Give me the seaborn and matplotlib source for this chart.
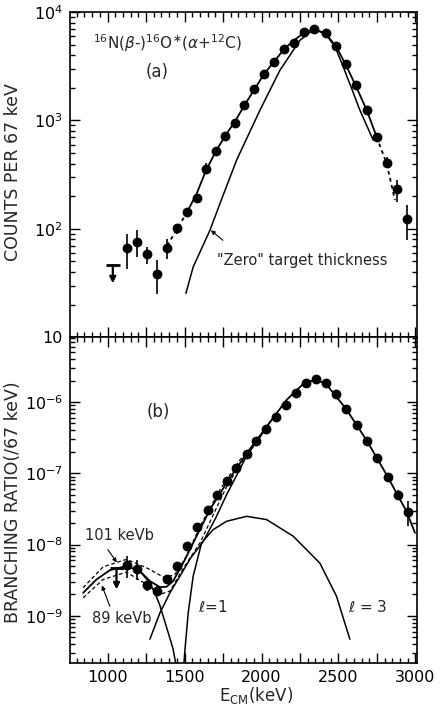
import math
import matplotlib
matplotlib.use('Agg')
import matplotlib.pyplot as plt
import seaborn as sns
from matplotlib.ticker import MultipleLocator, LogLocator, FuncFormatter, NullFormatter

# ------------------------------------------------------------
# panel (a): counts per 67 keV
# ------------------------------------------------------------
e_a = [1123, 1188, 1257, 1322, 1387, 1452, 1513, 1578, 1639, 1702, 1762, 1827, 1888,
       1953, 2017, 2082, 2147, 2212, 2277, 2342, 2416, 2483, 2546, 2611, 2683, 2748,
       2813, 2878, 2943]
counts_a = [66, 75, 59, 38.6, 67, 101, 143, 192, 360, 523, 716, 950, 1375,
            1932, 2679, 3453, 4530, 5210, 6580, 6970, 6360, 4850, 3290, 2104, 1245, 706,
            409, 231, 122]

err_e_a = [1123, 1188, 1257, 1322, 1387, 1452, 1639, 2813, 2878, 2943]
err_lo_a = [43, 55, 47.9, 25.3, 53, 90.6, 324, 361, 177, 78.5]
err_hi_a = [90.6, 97, 68, 51.3, 81, 112, 401, 461, 281, 165]

ul_e_a = [1034]
ul_top_a = [46]
ul_tip_a = [31.5]

# fit curve: dashed start, solid body, dashed tail
fit_dash1_e = [1387, 1452, 1513]
fit_dash1 = [70, 100, 140]
fit_e_a = [1513, 1578, 1639, 1702, 1762, 1827, 1888, 1953, 2017, 2082, 2147, 2212,
           2277, 2342, 2416, 2483, 2546, 2611, 2683, 2748]
fit_a = [140, 210, 345, 515, 715, 975, 1370, 1930, 2680, 3500, 4550, 5500,
         6450, 6950, 6350, 4850, 3300, 2110, 1250, 706]
fit_dash2_e = [2748, 2813, 2867]
fit_dash2 = [706, 400, 184]

# "zero" target thickness curve
zero_e = [1509, 1556, 1665, 1730, 1838, 1990, 2120, 2250, 2342, 2420, 2480, 2531,
          2590, 2639, 2726]
zero_a = [25.4, 44.5, 97, 171, 430, 1245, 2910, 5500, 6970, 6200, 4700, 3125,
          1900, 1245, 658]

# ------------------------------------------------------------
# panel (b): branching ratio per 67 keV
# ------------------------------------------------------------
e_b = [1127, 1192, 1257, 1322, 1387, 1452, 1517, 1582, 1650, 1712, 1773, 1834, 1903,
       1964, 2029, 2093, 2158, 2223, 2288, 2353, 2418, 2483, 2548, 2618, 2687, 2752,
       2819, 2884, 2953]
br_b = [5.1e-9, 4.47e-9, 2.67e-9, 2.22e-9, 3.3e-9, 4.97e-9, 9.5e-9, 1.77e-8, 3.1e-8,
        5.0e-8, 7.9e-8, 1.18e-7, 1.87e-7, 2.8e-7, 4.2e-7, 6.2e-7, 9.1e-7, 1.35e-6,
        1.82e-6, 2.08e-6, 1.82e-6, 1.28e-6, 7.98e-7, 4.77e-7, 2.85e-7, 1.66e-7,
        9.0e-8, 5.0e-8, 2.86e-8]

err_e_b = [1127, 1192, 1257, 1322, 1387, 2884, 2953]
err_lo_b = [3.42e-9, 3.17e-9, 2.22e-9, 1.89e-9, 2.9e-9, 4.3e-8, 1.8e-8]
err_hi_b = [6.86e-9, 6.17e-9, 3.07e-9, 2.61e-9, 3.8e-9, 5.9e-8, 4.04e-8]

ul_e_b = [1058]
ul_top_b = [4.7e-9]
ul_tip_b = [2.35e-9]

total_e = [841, 928, 1015, 1123, 1210, 1275, 1340, 1383, 1426, 1491, 1578, 1665, 1773,
           1903, 2033, 2163, 2277, 2353, 2418, 2548, 2683, 2813, 2943, 2997]
total_b = [2.1e-9, 3.24e-9, 4.37e-9, 5.0e-9, 4.24e-9, 3.07e-9, 2.53e-9, 2.56e-9,
           3.07e-9, 5.5e-9, 1.31e-8, 3.1e-8, 7.3e-8, 1.9e-7, 4.5e-7, 1.07e-6, 1.85e-6,
           2.05e-6, 1.8e-6, 8.1e-7, 2.9e-7, 9.5e-8, 2.9e-8, 1.46e-8]

kevb101_e = [841, 971, 1123, 1253, 1372, 1437, 1513, 1601, 1731, 1861, 1903]
kevb101 = [2.48e-9, 4.87e-9, 6.2e-9, 4.72e-9, 3.42e-9, 3.8e-9, 6.9e-9, 1.8e-8, 5.9e-8,
           1.55e-7, 1.95e-7]
kevb89_e = [841, 971, 1123, 1253, 1340, 1405, 1491, 1601, 1773, 1903]
kevb89 = [1.79e-9, 3.24e-9, 4.1e-9, 2.76e-9, 2.0e-9, 2.22e-9, 4.6e-9, 1.06e-8, 6.5e-8,
          1.85e-7]

l1_e = [1275, 1340, 1405, 1470, 1540, 1621, 1700, 1773, 1840, 1903, 1990, 2060]
l1_b = [4.7e-10, 1.1e-9, 2.1e-9, 3.6e-9, 6.5e-9, 1.1e-8, 2.3e-8, 5.0e-8, 9.5e-8,
        1.75e-7, 3.2e-7, 5.4e-7]

low_e = [1210, 1257, 1300, 1340, 1361, 1394, 1426, 1445]
low_b = [4.24e-9, 3.2e-9, 2.3e-9, 1.4e-9, 9.9e-10, 5.8e-10, 3.4e-10, 2.0e-10]

l3_e = [1495, 1503, 1524, 1556, 1611, 1686, 1773, 1903, 2033, 2206, 2379, 2487, 2574]
l3_b = [2.0e-10, 3.4e-10, 1.11e-9, 3.6e-9, 1.06e-8, 1.62e-8, 2.12e-8, 2.49e-8,
        2.24e-8, 1.31e-8, 5.5e-9, 1.89e-9, 4.7e-10]

# ------------------------------------------------------------
sns.set_style('ticks')
plt.rcParams['font.family'] = ['DejaVu Sans']
plt.rcParams['mathtext.fontset'] = 'dejavusans'

fig = plt.figure(figsize=(4.45, 7.10), dpi=100)
ax_a = fig.add_axes([0.157, 0.525, 0.780, 0.458])
ax_b = fig.add_axes([0.157, 0.066, 0.780, 0.459])

LW = 1.3


def line(ax, x, y, ls='-', lw=LW):
    sns.lineplot(x=x, y=y, ax=ax, color='k', lw=lw, linestyle=ls,
                 sort=False, estimator=None)


def points(ax, x, y, ex, elo, ehi):
    ax.vlines(ex, elo, ehi, color='k', lw=1.2, zorder=3)
    sns.scatterplot(x=x, y=y, ax=ax, color='k', s=50, linewidth=0, zorder=4)


def upper_limit(ax, x, top, tip):
    for xi, t, b in zip(x, top, tip):
        ax.plot([xi], [t], marker='_', ms=10, mew=2, color='k')
        ax.annotate('', xy=(xi, b), xytext=(xi, t),
                    arrowprops=dict(arrowstyle='-|>', color='k', lw=1.6,
                                    mutation_scale=9, shrinkA=0, shrinkB=0))


def pointer(ax, head, tail):
    ax.annotate('', xy=head, xytext=tail,
                arrowprops=dict(arrowstyle='-|>', color='k', lw=0.8,
                                mutation_scale=6, shrinkA=0, shrinkB=0))


# panel (a)
line(ax_a, fit_dash1_e, fit_dash1, ls=(0, (2, 2)))
line(ax_a, fit_e_a, fit_a)
line(ax_a, fit_dash2_e, fit_dash2, ls=(0, (2, 2)))
line(ax_a, zero_e, zero_a, lw=1.1)
points(ax_a, e_a, counts_a, err_e_a, err_lo_a, err_hi_a)
upper_limit(ax_a, ul_e_a, ul_top_a, ul_tip_a)

ax_a.text(0.066, 0.905, r'$^{16}$N($\beta$-)$^{16}$O$^{\ast}$($\alpha$+$^{12}$C)',
          transform=ax_a.transAxes, fontsize=11, va='center')
ax_a.text(0.251, 0.815, '(a)', transform=ax_a.transAxes, fontsize=12,
          ha='center', va='center')
ax_a.text(0.424, 0.237, '"Zero" target thickness', transform=ax_a.transAxes,
          fontsize=10.5, va='center')
pointer(ax_a, (1671, 97), (1749, 78.5))

# panel (b)
line(ax_b, total_e, total_b)
line(ax_b, kevb101_e, kevb101, ls=(0, (3, 2)), lw=0.9)
line(ax_b, kevb89_e, kevb89, ls=(0, (3, 2)), lw=0.9)
line(ax_b, l1_e, l1_b, lw=1.1)
line(ax_b, low_e, low_b, lw=1.1)
line(ax_b, l3_e, l3_b, lw=1.1)
points(ax_b, e_b, br_b, err_e_b, err_lo_b, err_hi_b)
upper_limit(ax_b, ul_e_b, ul_top_b, ul_tip_b)

ax_b.text(0.254, 0.770, '(b)', transform=ax_b.transAxes, fontsize=12,
          ha='center', va='center')
ax_b.text(0.043, 0.393, '101 keVb', transform=ax_b.transAxes, fontsize=10.5,
          va='center')
ax_b.text(0.063, 0.138, '89 keVb', transform=ax_b.transAxes, fontsize=10.5,
          va='center')
ax_b.text(0.412, 0.172, r'$\ell$=1', transform=ax_b.transAxes, fontsize=11,
          ha='center', va='center')
ax_b.text(0.859, 0.172, r'$\ell$ = 3', transform=ax_b.transAxes, fontsize=11,
          ha='center', va='center')
pointer(ax_b, (1060, 5.6e-9), (1002, 8.5e-9))
pointer(ax_b, (963, 2.67e-9), (1015, 1.36e-9))


def pow_label(v, pos):
    if v <= 0:
        return ''
    p = int(round(math.log10(v)))
    if abs(v / 10 ** p - 1) > 1e-6:
        return ''
    if p == 1:
        return '10'
    return r'$10^{%d}$' % p


def e_label(v, pos):
    return '%d' % v if int(round(v)) % 500 == 0 else ''


for ax in (ax_a, ax_b):
    ax.set_yscale('log')
    ax.set_xlim(755, 3010)
    ax.xaxis.set_major_locator(MultipleLocator(250))
    ax.xaxis.set_minor_locator(MultipleLocator(50))
    ax.yaxis.set_major_locator(LogLocator(base=10, numticks=20))
    ax.yaxis.set_minor_locator(LogLocator(base=10, subs=range(2, 10), numticks=20))
    ax.yaxis.set_major_formatter(FuncFormatter(pow_label))
    ax.yaxis.set_minor_formatter(NullFormatter())
    ax.tick_params(which='both', direction='in', top=True, right=True,
                   labelsize=11.5, pad=5, width=1, colors='k')
    ax.tick_params(which='major', length=7)
    ax.tick_params(which='minor', length=3.5)
    ax.set_xlabel('')
    ax.set_ylabel('')
    ax.xaxis.label.set_visible(False)
    ax.yaxis.label.set_visible(False)
    for s in ax.spines.values():
        s.set_linewidth(1.2)
        s.set_color('k')

ax_a.set_ylim(10, 1e4)
ax_b.set_ylim(2.17e-10, 8.1e-6)
ax_a.xaxis.set_major_formatter(NullFormatter())
ax_b.xaxis.set_major_formatter(FuncFormatter(e_label))

fig.text(0.03, 0.757, 'COUNTS PER 67 keV', rotation=90, fontsize=12.5,
         ha='center', va='center')
fig.text(0.03, 0.293, 'BRANCHING RATIO(/67 keV)', rotation=90, fontsize=12.5,
         ha='center', va='center')
fig.text(0.575, 0.0205, r'E$_{\mathrm{CM}}$(keV)', fontsize=12,
         ha='center', va='center')

fig.savefig('out.png', dpi=100)
